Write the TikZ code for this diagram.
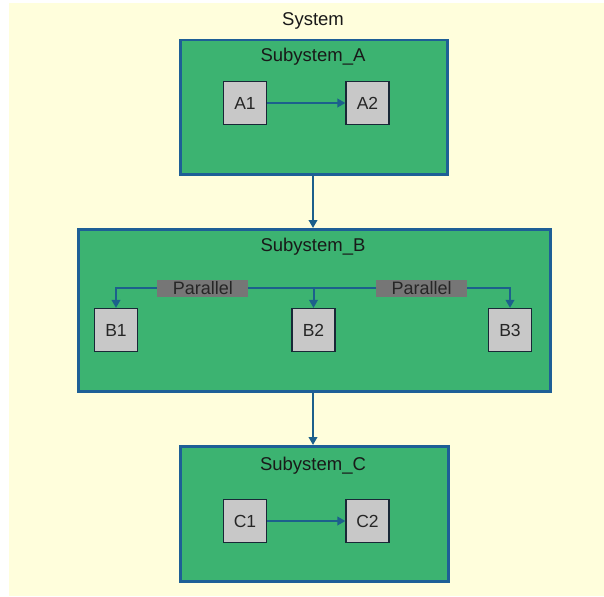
\documentclass[tikz,border=0pt]{standalone}
\usepackage{fontspec}
\setmainfont{Liberation Sans}
\usetikzlibrary{arrows.meta}
\definecolor{bgyellow}{RGB}{255,254,220}
\definecolor{subgreen}{RGB}{60,179,113}
\definecolor{subborder}{RGB}{30,95,150}
\definecolor{arrowblue}{RGB}{28,96,140}
\definecolor{leafgray}{RGB}{200,200,200}
\definecolor{leafborder}{RGB}{25,40,55}
\definecolor{labelgray}{RGB}{118,118,118}
\begin{document}
\begin{tikzpicture}[x=1pt,y=-1pt,
  subbox/.style={draw=subborder, line width=2.5pt, fill=subgreen, anchor=north west, inner sep=0pt},
  leaf/.style={draw=leafborder, line width=1.2pt, fill=leafgray, minimum width=43pt, minimum height=43pt, inner sep=0pt, font=\fontsize{17.5}{18}\selectfont, text=black!85},
  subtitle/.style={font=\fontsize{18.5}{20}\selectfont, text=black!90},
  conn/.style={draw=arrowblue, line width=2pt, -{Triangle[length=8pt,width=8.5pt]}},
  plabel/.style={fill=labelgray, inner sep=0pt, minimum width=91pt, minimum height=17pt, font=\fontsize{18}{18}\selectfont, text=black!85}
]
\useasboundingbox (0,0) rectangle (604,596);
\fill[bgyellow] (9,3) rectangle (604,596);
\node[subtitle] (systitle) at (313,21) {System};

% Subsystem frames
\node[subbox, minimum width=267pt, minimum height=134pt] (SA) at (179,39) {};
\node[subbox, minimum width=472pt, minimum height=162pt] (SB) at (77,228) {};
\node[subbox, minimum width=268pt, minimum height=135pt] (SC) at (179,445) {};

\node[subtitle] (SAt) at (313,57) {Subystem\_A};
\node[subtitle] (SBt) at (313,247) {Subystem\_B};
\node[subtitle] (SCt) at (313,466) {Subystem\_C};

% Leaves
\node[leaf] (A1) at (245,103) {A1};
\node[leaf] (A2) at (367.5,103) {A2};
\node[leaf] (B1) at (116,330) {B1};
\node[leaf] (B2) at (313.5,330) {B2};
\node[leaf] (B3) at (510,330) {B3};
\node[leaf] (C1) at (245,521) {C1};
\node[leaf] (C2) at (367.5,521) {C2};

% Connectors
\draw[conn] (A1) -- (A2);
\draw[conn] (C1) -- (C2);
\draw[conn] (SA.south -| 313,0) -- (SB.north -| 313,0);
\draw[conn] (SB.south -| 313,0) -- (SC.north -| 313,0);

\coordinate (hub) at (313.5,288);
\draw[conn] (hub) -| (B1) node[plabel, pos=0.28] (P1) {Parallel};
\draw[conn] (hub) -| (B3) node[plabel, pos=0.275] (P2) {Parallel};
\draw[conn] (hub) -- (B2);
\end{tikzpicture}
\end{document}
